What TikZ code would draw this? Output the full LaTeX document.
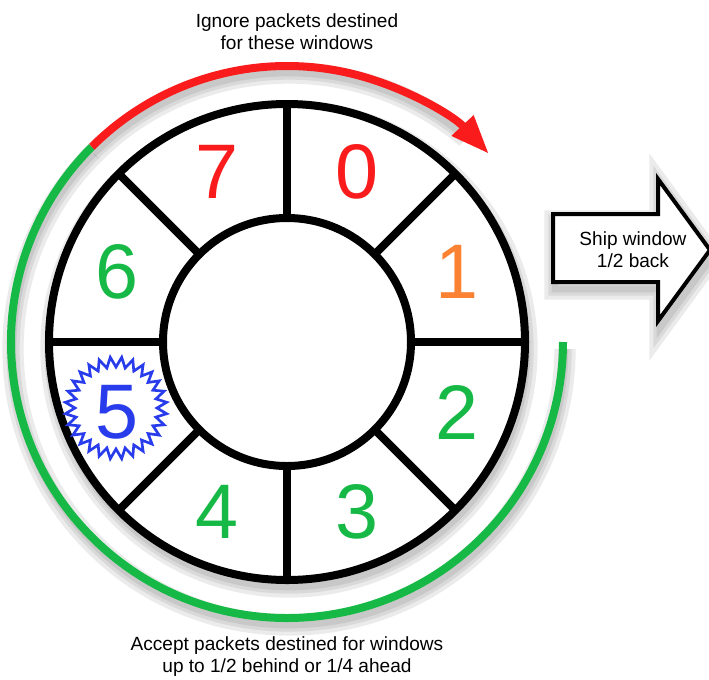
\documentclass[tikz,border=0pt]{standalone}
\usepackage{fontspec}
\setmainfont{Liberation Sans}
\usetikzlibrary{arrows.meta}
\definecolor{ignorered}{RGB}{250,28,28}
\definecolor{acceptgreen}{RGB}{22,185,70}
\definecolor{nextorange}{RGB}{250,130,50}
\definecolor{hereblue}{RGB}{40,60,235}
\tikzset{
  ringline/.style={line width=6pt,black},
  winlabel/.style={font=\fontsize{58}{58}\selectfont,inner sep=0pt},
  ignorearc/.style={line width=6pt,ignorered,-{Triangle[length=29pt,width=21pt]}},
  acceptarc/.style={line width=6pt,acceptgreen},
  softshadow/.style={line width=#1,black,opacity=0.08},
  starline/.style={line width=2pt,hereblue,fill=white,line join=miter},
  shiparrow/.style={line width=3pt,black,fill=white,line join=miter},
  note/.style={font=\fontsize{14.3}{16.5}\selectfont,align=center},
  every picture/.style={x=0.75pt,y=0.75pt}
}

\begin{document}
\begin{tikzpicture}
  \useasboundingbox (-287,-337) rectangle (422,342);
  % soft shadow under the ring, the arcs and the arrow
  \begin{scope}[shift={(2,-7)}]
    \foreach \w in {5,10,16} {
      \draw[softshadow=\w pt] (0,0) circle[radius=238];
      \draw[softshadow=\w pt] (135:276) arc[start angle=135,end angle=50,radius=276];
      \draw[softshadow=\w pt] (135:276) arc[start angle=135,end angle=360,radius=276];
      \draw[softshadow=\w pt] (266,60) -- (371,60) -- (371,21) -- (423,92)
        -- (371,163) -- (371,128) -- (266,128) -- cycle;
    }
  \end{scope}
  % the windows ring
  \draw[ringline,fill=white] (0,0) circle[radius=238];
  \begin{scope}[shift={(-171,-66)}]
    \draw[starline] (0:41) \foreach \i [evaluate=\i as \r using {41+10*mod(\i,2)}]
      in {1,...,55} { -- ({360/56*\i}:\r) } -- cycle;
  \end{scope}
  \foreach \a in {0,45,...,315}
    \draw[ringline] (\a:124) -- (\a:238);
  \draw[ringline,fill=white] (0,0) circle[radius=124];
  \foreach \n/\c in {0/ignorered,1/nextorange,2/acceptgreen,3/acceptgreen,
                     4/acceptgreen,5/hereblue,6/acceptgreen,7/ignorered}
    \node[winlabel,text=\c] (w\n) at ({67.5-45*\n}:184) {\n};
  % ignore / accept arcs
  \draw[acceptarc] (135:276) arc[start angle=135,end angle=360,radius=276];
  \draw[ignorearc] (135:276) arc[start angle=135,end angle=43,radius=276];
  % ship window arrow
  \draw[shiparrow] (266,60) -- (371,60) -- (371,21) -- (423,92)
    -- (371,163) -- (371,128) -- (266,128) -- cycle;
  \node[note] (ship) at (346,92) {Ship window\\1/2 back};
  \node[note] (ignore) at (10,310) {Ignore packets destined\\for these windows};
  \node[note] (accept) at (0,-315) {Accept packets destined for windows\\up to 1/2 behind or 1/4 ahead};
\end{tikzpicture}
\end{document}
